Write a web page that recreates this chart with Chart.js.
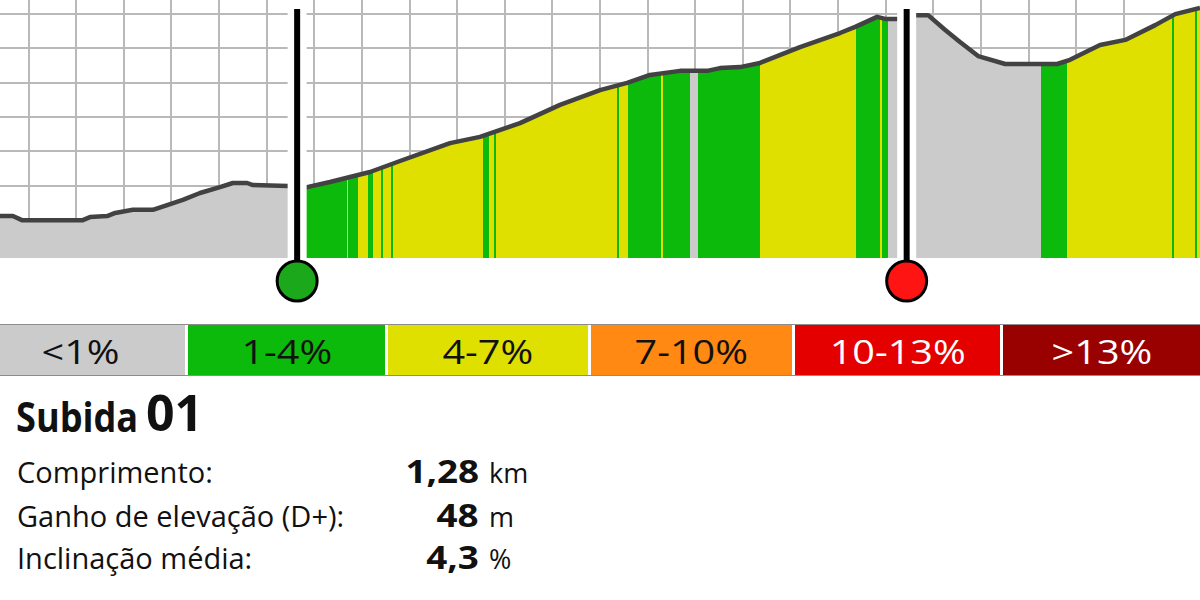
<!DOCTYPE html>
<html>
<head>
<meta charset="utf-8">
<script src="https://cdn.jsdelivr.net/npm/chart.js@4.4.1/dist/chart.umd.min.js"></script>
<style>
html, body { margin: 0; padding: 0; background: #fff; }
body { width: 1200px; height: 600px; position: relative; overflow: hidden; font-family: 'Open Sans', sans-serif; color: #111; }
#perfil { position: absolute; left: 0; top: 0; }
#legenda { position: absolute; left: 0; top: 324px; width: 1200px; height: 50px; border-top: 1px solid #8c8c8c; border-bottom: 1px solid #8c8c8c; display: flex; gap: 3px; }
#legenda div { height: 50px; line-height: 50px; text-align: center; font-size: 33px; flex: none; }
#legenda div span { display: inline-block; position: relative; top: 2px; transform: scaleX(1.2); }
#legenda div:nth-child(1) { width: 185px; }
#legenda div:nth-child(1) span { left: -12px; }
#legenda div:nth-child(2) { width: 197px; }
#legenda div:nth-child(3) { width: 200px; }
#legenda div:nth-child(4) { width: 201px; }
#legenda div:nth-child(5) { width: 205px; }
#legenda div:nth-child(6) { width: 197px; }
.tit { position: absolute; font-weight: 700; line-height: 1; white-space: nowrap; }
#pal { left: 16px; top: 395px; font-size: 42px; transform: scaleX(0.86); transform-origin: left center; }
#num { left: 146px; top: 387px; font-size: 50px; }
.rot, .val, .uni { position: absolute; white-space: nowrap; line-height: 1; }
.rot { left: 17px; font-size: 29px; }
.val { right: 721px; font-size: 32px; font-weight: 700; text-align: right; transform: scaleX(1.15); transform-origin: right center; }
.uni { left: 489px; font-size: 27px; }
</style>
</head>
<body>
<canvas id="perfil" width="1200" height="310"></canvas>
<div id="legenda"></div>
<div class="tit" id="pal">Subida</div>
<div class="tit" id="num">01</div>
<div id="dados"></div>
<script>
// perfil de altitude (distancia em m, altitude em m)
var distancia = [40, 67, 86, 214, 229, 265, 282, 319, 361, 391, 424, 460, 502, 529, 559, 571, 645, 664, 685, 733,
    817, 880, 985, 1048, 1132, 1216, 1300, 1357, 1405, 1468, 1525, 1552, 1594, 1636, 1720, 1804, 1836, 1882, 1899, 1924,
    1943, 1962, 1989, 2025, 2056, 2094, 2151, 2260, 2287, 2350, 2403, 2466, 2508, 2560]
var altitude = [111.2, 111.2, 110.0, 110.0, 110.9, 111.2, 112.1, 113.0, 113.0, 114.4, 115.9, 117.9, 119.6, 120.8, 120.8, 120.2, 119.9, 119.6, 119.6, 121.1,
    124.0, 127.2, 132.4, 134.2, 138.2, 143.5, 147.8, 149.9, 152.2, 153.4, 153.4, 154.2, 154.5, 155.7, 160.3, 164.4, 166.2, 169.1, 168.5, 168.5,
    169.1, 169.6, 169.6, 165.3, 161.8, 157.7, 155.4, 155.4, 156.6, 160.9, 162.4, 166.7, 169.9, 171.7]

// faixas de inclinacao: fim da faixa (m) e classe
var fimFaixa = [664, 769, 771, 792, 813, 823, 840, 844, 861, 865, 1054, 1067, 1077, 1082, 1336, 1340, 1359, 1428, 1432, 1489,
    1506, 1636, 1837, 1888, 1892, 1905, 2226, 2281, 2501, 2505, 2550, 2554, 2560]
var classeFaixa = [0, 1, 2, 1, 2, 1, 2, 1, 2, 1, 2, 1, 2, 1, 2, 1, 2, 1, 2, 1,
    0, 1, 2, 1, 2, 1, 0, 1, 2, 1, 2, 1, 2]

var classes = ['<1%', '1-4%', '4-7%', '7-10%', '10-13%', '>13%']
var inicioSubida = 664
var fimSubida = 1944

var rotulos = ['Comprimento:', 'Ganho de elevação (D+):', 'Inclinação média:']
var valores = ['1,28', '48', '4,3']
var unidades = ['km', 'm', '%']

const cores = ['#cbcbcb', '#0bba0b', '#e0e000', '#ff8912', '#e50000', '#990000']
const coresTexto = ['#111', '#111', '#111', '#111', '#fff', '#fff']

function preenchimento(ctx) {
    var chart = ctx.chart
    var area = chart.chartArea
    if (!area) return cores[0]
    var x = chart.scales.x
    var g = chart.ctx.createLinearGradient(area.left, 0, area.right, 0)
    var w = area.right - area.left
    var ini = x.min
    for (var i = 0; i < fimFaixa.length; i++) {
        var a = Math.max(0, Math.min(1, (x.getPixelForValue(ini) - area.left) / w))
        var b = Math.max(0, Math.min(1, (x.getPixelForValue(fimFaixa[i]) - area.left) / w))
        g.addColorStop(a, cores[classeFaixa[i]])
        g.addColorStop(b, cores[classeFaixa[i]])
        ini = fimFaixa[i]
    }
    return g
}

const marcadores = {
    id: 'marcadores',
    afterDatasetsDraw(chart) {
        var c = chart.ctx
        var area = chart.chartArea
        var lista = [[inicioSubida, '#1ba81b'], [fimSubida, '#ff1414']]
        for (var m of lista) {
            var px = chart.scales.x.getPixelForValue(m[0])
            c.save()
            c.fillStyle = '#fff'
            c.fillRect(px - 9.5, 0, 19, area.bottom)
            c.fillStyle = '#000'
            c.fillRect(px - 3, 9, 6, area.bottom + 23 - 9)
            c.beginPath()
            c.arc(px, area.bottom + 23, 20, 0, Math.PI * 2)
            c.fillStyle = m[1]
            c.fill()
            c.lineWidth = 3
            c.strokeStyle = '#000'
            c.stroke()
            c.restore()
        }
    }
}

const perfil = new Chart(document.getElementById('perfil'), {
    type: 'line',
    data: {
        datasets: [{
            data: distancia.map((d, i) => ({ x: d, y: altitude[i] })),
            borderColor: '#424242',
            borderWidth: 4.5,
            borderJoinStyle: 'round',
            pointRadius: 0,
            tension: 0,
            fill: 'start',
            backgroundColor: preenchimento
        }]
    },
    options: {
        responsive: false,
        animation: false,
        layout: { padding: { left: 0, right: 0, top: 0, bottom: 52 } },
        plugins: { legend: { display: false }, tooltip: { enabled: false } },
        scales: {
            x: {
                type: 'linear', min: 40, max: 2560,
                ticks: { display: false, stepSize: 100 },
                grid: { color: '#b9b9b9', lineWidth: 2, drawTicks: false },
                border: { display: false },
                afterBuildTicks: s => { s.ticks = s.ticks.filter(t => t.value % 100 === 0) }
            },
            y: {
                min: 99, max: 174,
                ticks: { display: false, stepSize: 10 },
                grid: { color: '#b9b9b9', lineWidth: 2, drawTicks: false },
                border: { display: false },
                afterBuildTicks: s => { s.ticks = s.ticks.filter(t => t.value % 10 === 0) }
            }
        }
    },
    plugins: [marcadores]
});

// legenda das classes
var leg = document.getElementById('legenda')
classes.forEach(function (t, i) {
    var d = document.createElement('div')
    d.style.background = cores[i]
    d.style.color = coresTexto[i]
    var s = document.createElement('span')
    s.textContent = t
    d.appendChild(s)
    leg.appendChild(d)
})

// dados da subida
var base = [483, 527, 569]
var box = document.getElementById('dados')
rotulos.forEach(function (r, i) {
    var a = document.createElement('div'); a.className = 'rot'; a.textContent = r
    a.style.top = (base[i] - 0.888 * 29) + 'px'
    var b = document.createElement('div'); b.className = 'val'; b.textContent = valores[i]
    b.style.top = (base[i] - 0.888 * 32) + 'px'
    var u = document.createElement('div'); u.className = 'uni'; u.textContent = unidades[i]
    u.style.top = (base[i] - 0.888 * 27) + 'px'
    box.appendChild(a); box.appendChild(b); box.appendChild(u)
})
</script>
</body>
</html>
